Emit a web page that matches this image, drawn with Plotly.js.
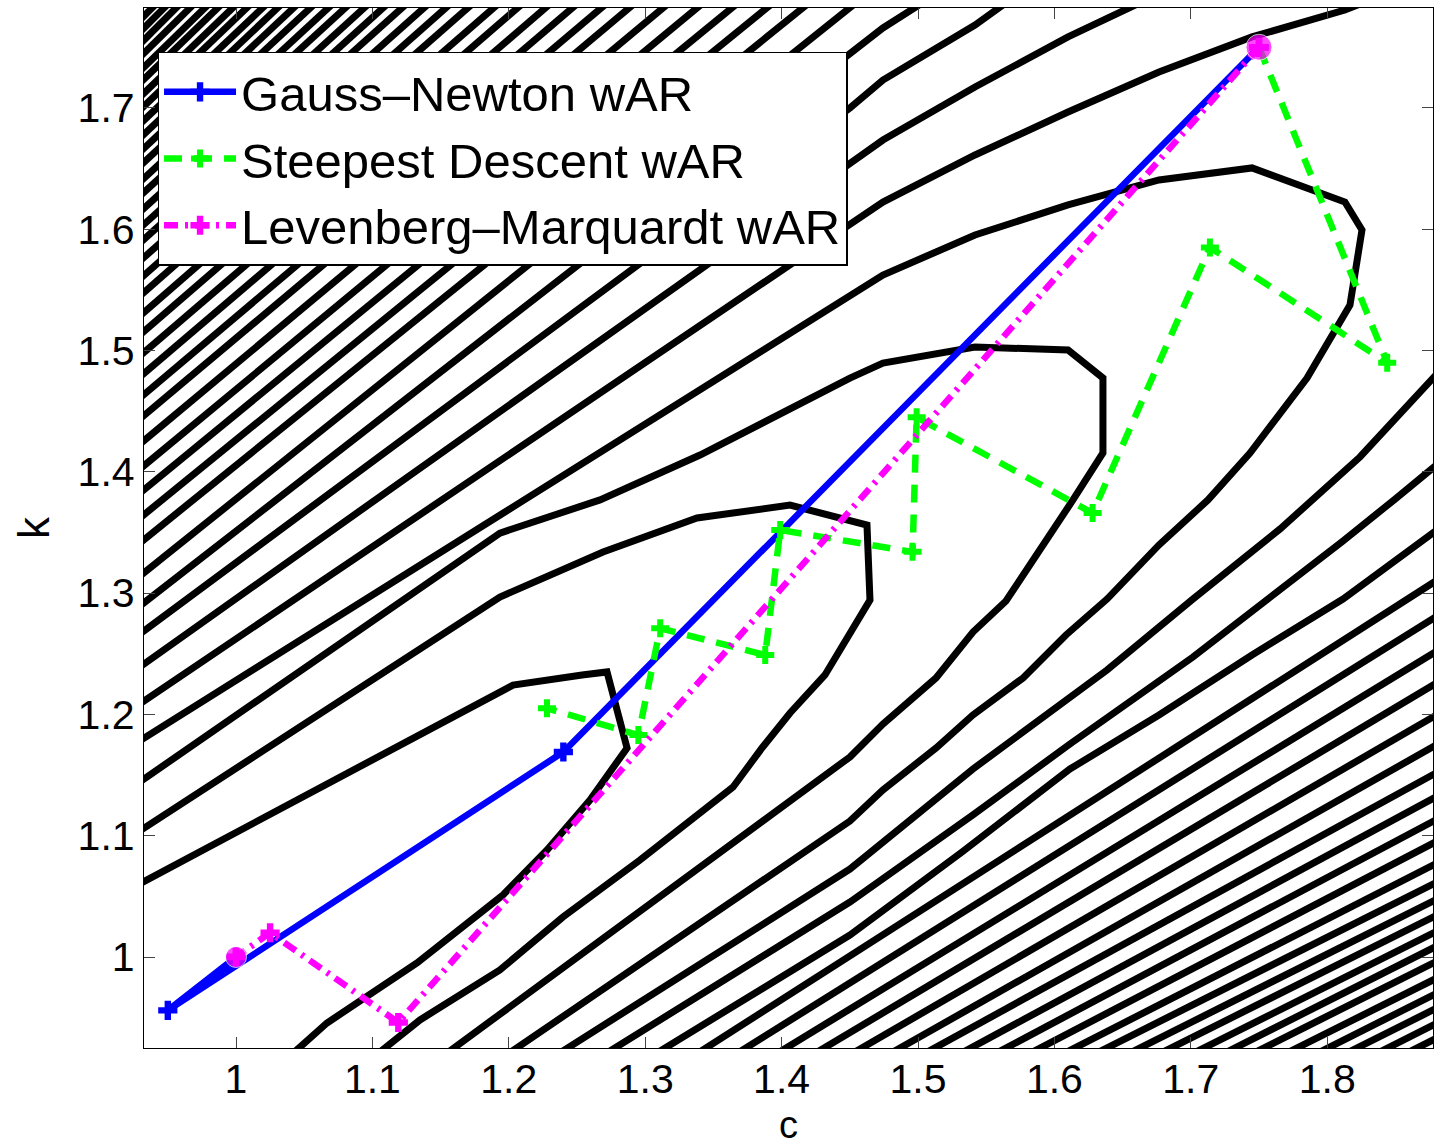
<!DOCTYPE html>
<html><head><meta charset="utf-8">
<script src="https://cdn.plot.ly/plotly-3.0.1.min.js"></script>
<style>html,body{margin:0;padding:0;background:#fff}#chart{width:1434px;height:1147px}</style>
</head><body><div id="chart"></div>
<script>
// ---------- DATA ----------
// Upper-left hatch contours: each runs from the left edge (k value) to the top edge (c value)
const hatchLeftK = [1.7733,1.7634,1.7535,1.7428,1.7312,1.7213,1.7098,1.6991,1.6876,1.6760,1.6645,1.6529,1.6397,1.6282,1.6150,1.6018,1.5895,1.5746,1.5598,1.5458,1.5293,1.5136,1.4963,1.4790,1.4617,1.4444,1.4237,1.4031,1.3833,1.3627,1.3421,1.3149];
const hatchTopC  = [0.9457,0.9545,0.9633,0.9736,0.9846,0.9941,1.0051,1.0154,1.0271,1.0381,1.0499,1.0623,1.0755,1.0880,1.1019,1.1158,1.1298,1.1459,1.1620,1.1782,1.1972,1.2148,1.2353,1.2551,1.2764,1.2969,1.3218,1.3468,1.3724,1.3981,1.4245,1.4589];
const leftEdgeC = 0.9304, topEdgeK = 1.7906;

// Lower-right contours: each runs from the bottom edge (c value) to the right edge (k value)
const lowerBottomC = [1.3354,1.3644,1.3937,1.4213,1.4487,1.4765,1.5015,1.5279,1.5535,1.5784,1.6034,1.6268,1.6510,1.6738,1.6979,1.7207,1.7419,1.7661,1.7889,1.8101,1.8328,1.8541];
const lowerRightK  = [1.3149,1.2852,1.2564,1.2300,1.2036,1.1789,1.1558,1.1360,1.1171,1.0989,1.0808,1.0651,1.0511,1.0379,1.0247,1.0124,1.0000,0.9860,0.9736,0.9613,0.9489,0.9365];
const bottomEdgeK = 0.9184, rightEdgeC = 1.8864;

// Curved contours (c and k vertices)
const curveC = [
  [0.9304,1.4501,1.4743,1.5088],
  [0.9304,1.4501,1.4743,1.5418,1.5674],
  [0.9304,1.4501,1.4743,1.5418,1.6100,1.6701],
  [0.9304,1.4501,1.4743,1.5418,1.6100,1.6767,1.7449,1.8130,1.8314],
  [0.9304,1.4501,1.4743,1.5418,1.6100,1.6767,1.7449,1.8130,1.8255,1.8167,1.7852,1.7434,1.7126,1.6767,1.6386,1.6085,1.5770,1.5403,1.5132,1.4743,1.4501,1.1972],
  [0.9304,1.1935,1.2669,1.3402,1.4501,1.4743,1.5418,1.6100,1.6356,1.6356,1.6136,1.5799,1.5645,1.5403,1.5132,1.4743,1.4501,1.1518],
  [0.9304,1.1935,1.2691,1.3380,1.4062,1.4626,1.4648,1.4318,1.4062,1.3856,1.3644,1.2962,1.2397,1.1935,1.1349,1.1019],
  [0.9304,1.1935,1.2031,1.2537,1.2720,1.2867,1.2720,1.2595,1.2280,1.1957,1.1327,1.0667,1.0396],
  [1.2339,1.4501,1.5403,1.6386,1.7016,1.7654,1.8240,1.8864],
  [1.2683,1.4501,1.5403,1.6114,1.7016,1.7449,1.8116,1.8490,1.8864],
  [1.3050,1.4501,1.5323,1.6114,1.6767,1.7449,1.8116,1.8600,1.8864]
];
const curveK = [
  [1.2902,1.7453,1.7659,1.7906],
  [1.2671,1.6999,1.7230,1.7683,1.7890],
  [1.2399,1.6546,1.6735,1.7172,1.7585,1.7906],
  [1.2094,1.6035,1.6224,1.6612,1.6966,1.7296,1.7585,1.7807,1.7889],
  [1.1789,1.5458,1.5622,1.5952,1.6200,1.6406,1.6505,1.6224,1.5993,1.5375,1.4773,1.4155,1.3768,1.3397,1.2951,1.2655,1.2300,1.1995,1.1723,1.1377,1.1121,0.9184],
  [1.1451,1.3495,1.3768,1.4138,1.4773,1.4897,1.5029,1.5004,1.4773,1.4155,1.3768,1.3190,1.2935,1.2679,1.2300,1.1921,1.1649,0.9184],
  [1.1047,1.2968,1.3339,1.3619,1.3726,1.3561,1.2943,1.2325,1.2012,1.1723,1.1401,1.0800,1.0330,0.9893,0.9481,0.9184],
  [1.0610,1.2185,1.2242,1.2325,1.2350,1.1723,1.1484,1.1294,1.0882,1.0511,0.9951,0.9456,0.9184],
  [0.9184,1.0725,1.1550,1.2366,1.2951,1.3528,1.4122,1.4880],
  [0.9184,1.0453,1.1171,1.1756,1.2473,1.2844,1.3430,1.3768,1.4114],
  [0.9184,1.0181,1.0866,1.1550,1.1995,1.2490,1.2951,1.3355,1.3570]
];

// Optimisation paths
const gnC = [1.75, 1.240, 0.950, 1.000];
const gnK = [1.75, 1.169, 0.956, 1.000];
const sdC = [1.75, 1.844, 1.714, 1.628, 1.499, 1.496, 1.399, 1.388, 1.311, 1.295, 1.228];
const sdK = [1.75, 1.490, 1.585, 1.366, 1.445, 1.334, 1.352, 1.249, 1.271, 1.183, 1.205];
const lmC = [1.75, 1.119, 1.025, 1.000];
const lmK = [1.75, 0.946, 1.020, 1.000];
const markC = [1.000, 1.75];
const markK = [1.000, 1.75];

const seriesNames = ['Gauss\u2013Newton wAR', 'Steepest Descent wAR', 'Levenberg\u2013Marquardt wAR'];
const xTicks = [1, 1.1, 1.2, 1.3, 1.4, 1.5, 1.6, 1.7, 1.8];
const xTickText = ['1','1.1','1.2','1.3','1.4','1.5','1.6','1.7','1.8'];
const yTicks = [1, 1.1, 1.2, 1.3, 1.4, 1.5, 1.6, 1.7];
const yTickText = ['1','1.1','1.2','1.3','1.4','1.5','1.6','1.7'];
const xLabel = 'c', yLabel = 'k';

// ---------- BUILD TRACES ----------
const FONT = 'Liberation Sans, Arial, Helvetica, sans-serif';
const contourLine = {color: '#000000', width: 7};
const traces = [];
function addContour(xs, ys) {
  traces.push({type: 'scatter', mode: 'lines', x: xs, y: ys, line: contourLine,
               showlegend: false, hoverinfo: 'skip'});
}
hatchLeftK.forEach((k, i) => addContour([leftEdgeC, hatchTopC[i]], [k, topEdgeK]));
lowerBottomC.forEach((c, i) => addContour([c, rightEdgeC], [bottomEdgeK, lowerRightK[i]]));
curveC.forEach((xs, i) => addContour(xs, curveK[i]));

traces.push({type: 'scatter', mode: 'lines+markers', name: seriesNames[0], x: gnC, y: gnK,
  line: {color: '#0000ff', width: 6.5},
  marker: {symbol: 'cross', size: 16, color: '#0000ff'}, legendgroup: 'a'});
traces.push({type: 'scatter', mode: 'lines+markers', name: seriesNames[1], x: sdC, y: sdK,
  line: {color: '#00ff00', width: 6.5, dash: '18px,12px'},
  marker: {symbol: 'cross', size: 15, color: '#00ff00'}, legendgroup: 'b'});
traces.push({type: 'scatter', mode: 'lines+markers', name: seriesNames[2], x: lmC, y: lmK,
  line: {color: '#ff00ff', width: 6.5, dash: '14px,7px,3px,7px'},
  marker: {symbol: 'cross', size: 16, color: '#ff00ff'}, legendgroup: 'c'});
traces.push({type: 'scatter', mode: 'markers', x: markC, y: markK, showlegend: false,
  marker: {symbol: 'circle', size: [21, 26], color: '#ff00ff'}, hoverinfo: 'skip'});

const axisCommon = {
  showgrid: false, zeroline: false, showline: true, linecolor: '#000', linewidth: 1.2,
  mirror: 'ticks', ticks: 'inside', ticklen: 11, tickwidth: 1, tickcolor: '#444',
  tickfont: {family: FONT, size: 41, color: '#000'}
};
const layout = {
  width: 1434, height: 1147,
  margin: {l: 144, r: 1, t: 8, b: 99, pad: 0},
  paper_bgcolor: '#ffffff', plot_bgcolor: '#ffffff',
  font: {family: FONT, color: '#000'},
  xaxis: Object.assign({}, axisCommon, {
    range: [0.93255, 1.87757], tickmode: 'array', tickvals: xTicks, ticktext: xTickText,
    ticklabelstandoff: -5
  }),
  yaxis: Object.assign({}, axisCommon, {
    range: [0.92498, 1.78236], tickmode: 'array', tickvals: yTicks, ticktext: yTickText,
    title: {text: yLabel, font: {family: FONT, size: 44, color: '#000'}, standoff: 14}
  }),
  annotations: [{
    text: xLabel, xref: 'paper', yref: 'paper', x: 0.5, y: -0.0952,
    xanchor: 'center', yanchor: 'bottom', showarrow: false, borderpad: 0,
    font: {family: FONT, size: 38, color: '#000'}
  }],
  legend: {
    x: 0.0105, y: 0.9577, xanchor: 'left', yanchor: 'top',
    bgcolor: '#ffffff', bordercolor: '#000000', borderwidth: 1.5,
    font: {family: FONT, size: 49, color: '#000'},
    itemwidth: 72, tracegroupgap: 7, traceorder: 'normal'
  },
  showlegend: true
};
Plotly.newPlot('chart', traces, layout, {staticPlot: true, displayModeBar: false});
</script>
</body></html>
